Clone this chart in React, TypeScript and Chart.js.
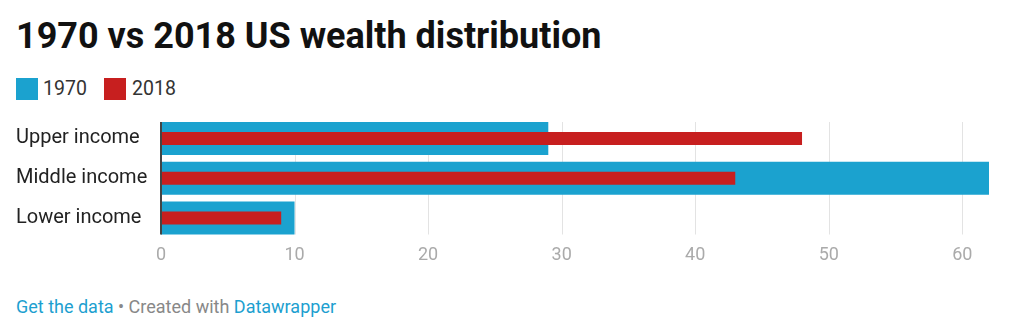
import React, { useEffect, useRef } from "react";
import { Chart, registerables } from "chart.js";

Chart.register(...registerables);

const categories = ["Upper income", "Middle income", "Lower income"];
const values1970 = [29, 62, 10];
const values2018 = [48, 43, 9];
const xTickValues = [0, 10, 20, 30, 40, 50, 60];
const xMax = 62;

const BLUE = "#1ba2cf";
const RED = "#c71f1f";
const FONT = "Roboto, 'Noto Sans', sans-serif";

export default function App() {
  const ref = useRef<HTMLCanvasElement>(null);

  useEffect(() => {
    if (!ref.current) return;

    const barExtent = (chart: any) => {
      const meta = chart.getDatasetMeta(0);
      const els = meta.data;
      const first = els[0].getProps(["y", "height"], true);
      const last = els[els.length - 1].getProps(["y", "height"], true);
      return { top: first.y - first.height / 2, bottom: last.y + last.height / 2 };
    };

    const gridPlugin = {
      id: "dwGrid",
      beforeDatasetsDraw(chart: any) {
        const { ctx } = chart;
        const xs = chart.scales.x;
        const { top, bottom } = barExtent(chart);
        ctx.save();
        ctx.strokeStyle = "#e3e3e3";
        ctx.lineWidth = 1;
        xTickValues.forEach((v) => {
          if (v === 0) return;
          const px = Math.round(xs.getPixelForValue(v)) + 0.5;
          ctx.beginPath();
          ctx.moveTo(px, top);
          ctx.lineTo(px, bottom);
          ctx.stroke();
        });
        ctx.restore();
      },
      afterDatasetsDraw(chart: any) {
        const { ctx } = chart;
        const xs = chart.scales.x;
        const { top, bottom } = barExtent(chart);
        ctx.save();
        ctx.strokeStyle = "#444444";
        ctx.lineWidth = 2;
        const px = Math.round(xs.getPixelForValue(0));
        ctx.beginPath();
        ctx.moveTo(px, top);
        ctx.lineTo(px, bottom);
        ctx.stroke();
        ctx.restore();
      },
    };

    const chart = new Chart(ref.current, {
      type: "bar",
      data: {
        labels: categories,
        datasets: [
          {
            label: "1970",
            data: values1970,
            backgroundColor: BLUE,
            borderWidth: 0,
            grouped: false,
            barPercentage: 0.83,
            categoryPercentage: 1,
            order: 2,
          },
          {
            label: "2018",
            data: values2018,
            backgroundColor: RED,
            borderWidth: 0,
            grouped: false,
            barPercentage: 0.33,
            categoryPercentage: 1,
            order: 1,
          },
        ],
      },
      options: {
        indexAxis: "y",
        responsive: false,
        animation: false,
        events: [],
        layout: { padding: { left: 16, right: 33, top: 18.6, bottom: 0 } },
        plugins: {
          legend: { display: false },
          tooltip: { enabled: false },
          title: { display: false },
        },
        scales: {
          x: {
            type: "linear",
            min: 0,
            max: xMax,
            grid: { display: false, drawTicks: false },
            border: { display: false },
            ticks: {
              color: "#aaaaaa",
              font: { family: FONT, size: 18 },
              padding: 6.5,
              maxRotation: 0,
            },
            afterBuildTicks: (scale: any) => {
              scale.ticks = xTickValues.map((v) => ({ value: v }));
            },
            afterFit: (scale: any) => {
              scale.height = 37.1;
            },
          },
          y: {
            type: "category",
            grid: { display: false, drawTicks: false },
            border: { display: false },
            ticks: {
              color: "#222222",
              font: { family: FONT, size: 20 },
              crossAlign: "far",
              padding: 0,
            },
            afterFit: (scale: any) => {
              scale.width = 145;
            },
          },
        },
      },
      plugins: [gridPlugin],
    });

    return () => chart.destroy();
  }, []);

  const abs = (s: React.CSSProperties): React.CSSProperties => ({
    position: "absolute",
    whiteSpace: "nowrap",
    ...s,
  });

  return (
    <div
      style={{
        position: "absolute",
        left: 0,
        top: 0,
        width: 1022,
        height: 335,
        background: "#ffffff",
        fontFamily: FONT,
        overflow: "hidden",
      }}
    >
      <div
        style={abs({
          left: 16,
          top: 18,
          fontSize: 36,
          lineHeight: "36px",
          fontWeight: 700,
          color: "#111111",
        })}
      >
        1970 vs 2018 US wealth distribution
      </div>

      <div style={abs({ left: 16, top: 78, width: 22, height: 22, background: BLUE })} />
      <div style={abs({ left: 43, top: 79.3, fontSize: 19.5, lineHeight: "19.5px", color: "#333333" })}>
        1970
      </div>
      <div style={abs({ left: 104, top: 78, width: 22, height: 22, background: RED })} />
      <div style={abs({ left: 132, top: 79.3, fontSize: 19.5, lineHeight: "19.5px", color: "#333333" })}>
        2018
      </div>

      <canvas
        ref={ref}
        width={1022}
        height={175}
        style={{ position: "absolute", left: 0, top: 100, width: 1022, height: 175 }}
      />

      <div style={abs({ left: 16, top: 298.1, fontSize: 18, lineHeight: "18px", color: "#888888" })}>
        <span style={{ color: "#1d9fd0" }}>Get the data</span>
        {" • Created with "}
        <span style={{ color: "#1d9fd0" }}>Datawrapper</span>
      </div>
    </div>
  );
}
